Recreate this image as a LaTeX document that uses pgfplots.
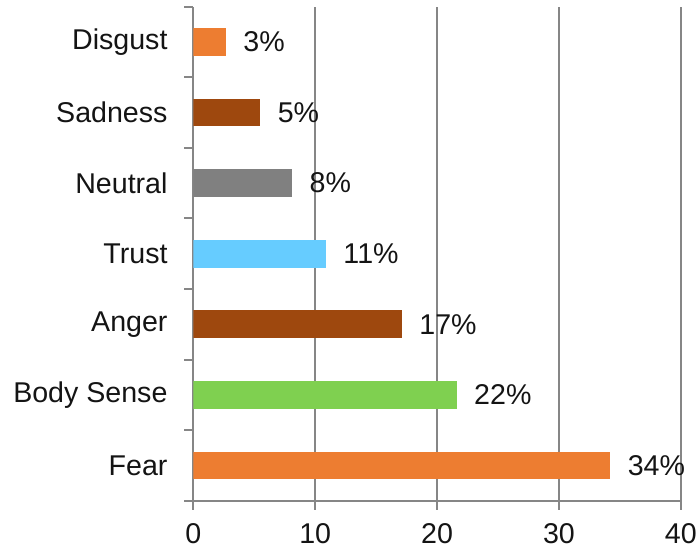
\documentclass[border=0pt]{standalone}
\usepackage{pgfplots}
\pgfplotsset{compat=1.18}
\usepackage{fontspec}
\setmainfont{Liberation Sans}
\definecolor{cOrange}{RGB}{237,125,49}
\definecolor{cBrown}{RGB}{158,72,14}
\definecolor{cGray}{RGB}{128,128,128}
\definecolor{cBlue}{RGB}{102,204,255}
\definecolor{cGreen}{RGB}{127,208,80}
\definecolor{axisgray}{RGB}{134,134,134}
\definecolor{txt}{RGB}{20,20,20}
\begin{document}
\begin{tikzpicture}[font=\fontsize{28.6}{34.3}\selectfont]
\begin{axis}[
  scale only axis, width=487.5pt, height=494pt,
  xmin=0, xmax=40, ymin=-0.5, ymax=6.5,
  xbar, bar width=27.7pt, bar shift=0pt,
  axis x line=bottom, axis y line=left,
  x axis line style={-}, y axis line style={-},
  axis line style={draw=axisgray, line width=2pt},
  xtick={0,10,20,30,40},
  xmajorgrids, grid style={draw=axisgray, line width=2pt},
  ytick={-0.5,0.5,1.5,2.5,3.5,4.5,5.5,6.5},
  yticklabels={},
  extra y ticks={0,1,2,3,4,5,6},
  extra y tick labels={Fear,Body Sense,Anger,Trust,Neutral,Sadness,Disgust},
  extra y tick style={major tick length=0pt, tick style={draw=none},
    yticklabel style={inner sep=0pt, anchor=east, xshift=-25.6pt, text=txt}},
  tick align=outside,
  tick style={draw=axisgray, line width=2pt},
  xtick style={draw=axisgray, line width=2pt},
  major tick length=9pt,
  /pgf/number format/assume math mode=true,
  xticklabel style={inner sep=0pt, anchor=north, yshift=-14pt, text=txt},
  point meta=explicit symbolic,
  nodes near coords,
  nodes near coords style={anchor=west, inner sep=0pt, xshift=17.5pt, text=txt},
]
\addplot[fill=cOrange, draw=none] coordinates {(34.2,0) [34\%]};
\addplot[fill=cGreen, draw=none] coordinates {(21.6,1) [22\%]};
\addplot[fill=cBrown, draw=none] coordinates {(17.1,2) [17\%]};
\addplot[fill=cBlue, draw=none] coordinates {(10.87,3) [11\%]};
\addplot[fill=cGray, draw=none] coordinates {(8.1,4) [8\%]};
\addplot[fill=cBrown, draw=none] coordinates {(5.48,5) [5\%]};
\addplot[fill=cOrange, draw=none] coordinates {(2.66,6) [3\%]};
\coordinate (O) at (rel axis cs:0,0);
\end{axis}
\path (O) ++(-193.3pt,-50.3pt) rectangle ++(699pt,551pt);
\end{tikzpicture}
\end{document}
